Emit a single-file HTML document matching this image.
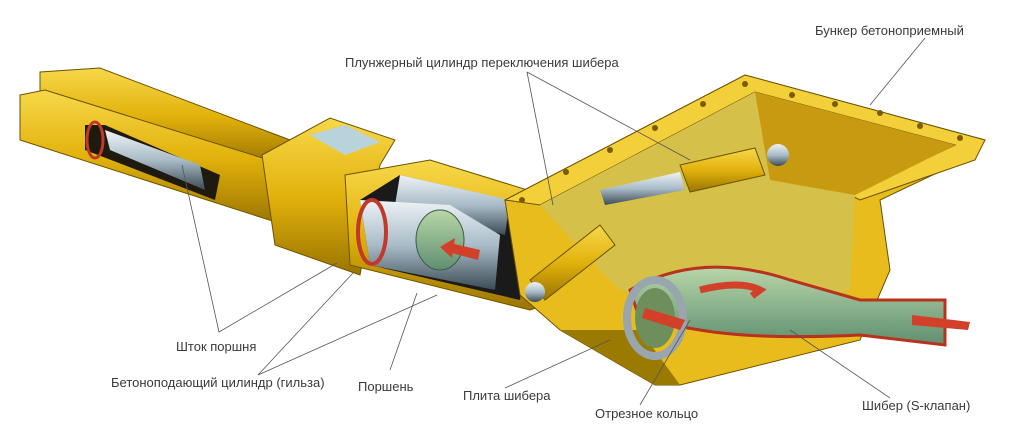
<!DOCTYPE html>
<html><head><meta charset="utf-8"><style>
html,body{margin:0;padding:0;background:#fff;}
svg{display:block}
text{font-family:"Liberation Sans",sans-serif;font-size:13px;fill:#3a3a3a}
</style></head><body>
<svg width="1024" height="426" viewBox="0 0 1024 426" xmlns="http://www.w3.org/2000/svg">
<defs>
<linearGradient id="y" x1="0" y1="0" x2="0" y2="1"><stop offset="0" stop-color="#f7d84a"/><stop offset=".5" stop-color="#e2b20c"/><stop offset="1" stop-color="#9a7400"/></linearGradient>
<linearGradient id="c" x1="0" y1="0" x2="0" y2="1"><stop offset="0" stop-color="#eef3f6"/><stop offset=".5" stop-color="#a9bcc8"/><stop offset="1" stop-color="#3c4b55"/></linearGradient>
<linearGradient id="g" x1="0" y1="0" x2="0" y2="1"><stop offset="0" stop-color="#b8d6a8"/><stop offset="1" stop-color="#5f8f70"/></linearGradient>
</defs>
<!-- left tubes -->
<polygon points="40,72 100,68 290,140 285,165 40,100" fill="url(#y)" stroke="#6b5200" stroke-width="1"/>
<polygon points="20,95 45,90 285,165 285,225 20,140" fill="url(#y)" stroke="#6b5200" stroke-width="1"/>
<polygon points="85,125 105,125 220,175 215,200 85,150" fill="#1e1a10"/>
<polygon points="105,130 200,165 205,190 110,150" fill="url(#c)"/>
<ellipse cx="95" cy="140" rx="8" ry="18" fill="none" stroke="#c0392b" stroke-width="3"/>
<!-- block -->
<polygon points="262,155 330,118 395,140 380,165 360,275 275,245" fill="url(#y)" stroke="#6b5200"/>
<polygon points="310,135 345,125 380,142 345,155" fill="#b9d3dc"/>
<!-- main cylinder -->
<polygon points="345,175 430,160 560,200 560,300 530,310 350,265" fill="url(#y)" stroke="#6b5200"/>
<polygon points="360,200 400,175 530,205 520,300 370,265" fill="#1a1a1a"/>
<polygon points="400,175 510,200 505,235 395,205" fill="url(#c)"/>
<polygon points="360,200 450,205 500,235 495,290 370,265" fill="url(#c)"/>
<ellipse cx="440" cy="240" rx="24" ry="30" fill="url(#g)" stroke="#3c5a48"/>
<ellipse cx="372" cy="232" rx="14" ry="32" fill="none" stroke="#c0392b" stroke-width="4"/>
<polygon points="450,243 480,250 478,260 448,252" fill="#d2402a"/>
<polygon points="440,247 455,238 452,258" fill="#d2402a"/>
<!-- hopper -->
<polygon points="505,200 745,75 985,140 975,155 880,200 890,270 860,340 680,385 655,385 560,330 520,295" fill="#e7bc1c" stroke="#6b5200"/>
<polygon points="505,200 745,75 985,140 975,160 860,200 850,195 955,145 755,92 540,205" fill="#f3cf3a" stroke="#6b5200"/>
<polygon points="540,205 755,92 955,145 855,195 850,290 760,320 620,290 590,260" fill="#d5c14a"/>
<polygon points="755,92 955,145 855,195 770,180" fill="#c89a10"/>
<polygon points="560,330 655,385 680,385 640,330" fill="#9a7a00"/>
<!-- s valve -->
<path d="M630,290 Q700,250 790,280 L860,300 L945,300 L945,345 L860,335 Q760,340 700,330 L640,320 Z" fill="url(#g)" stroke="#b8321e" stroke-width="3"/>
<ellipse cx="655" cy="318" rx="28" ry="38" fill="none" stroke="#9aa6ad" stroke-width="8"/>
<ellipse cx="655" cy="318" rx="20" ry="30" fill="#6e8f5c"/>
<polygon points="645,308 685,320 680,330 642,318" fill="#d2402a"/>
<path d="M700,290 Q740,280 760,290 L752,296" fill="none" stroke="#d2402a" stroke-width="7"/>
<polygon points="912,315 970,322 968,330 912,325" fill="#d2402a"/>
<!-- plunger cylinder -->
<polygon points="680,165 755,148 765,175 690,192" fill="url(#y)" stroke="#6b5200"/>
<circle cx="778" cy="155" r="11" fill="url(#c)"/>
<polygon points="600,190 680,172 685,190 605,205" fill="url(#c)"/>
<polygon points="530,280 600,225 615,245 545,300" fill="url(#y)" stroke="#6b5200"/>
<circle cx="535" cy="292" r="10" fill="url(#c)"/>
<!-- bolts -->
<g fill="#7a5d00"><circle cx="745" cy="84" r="3"/><circle cx="792" cy="95" r="3"/><circle cx="835" cy="104" r="3"/><circle cx="880" cy="113" r="3"/><circle cx="920" cy="126" r="3"/><circle cx="960" cy="138" r="3"/><circle cx="703" cy="104" r="3"/><circle cx="655" cy="128" r="3"/><circle cx="610" cy="150" r="3"/><circle cx="566" cy="172" r="3"/><circle cx="522" cy="200" r="3"/></g>
<!-- leader lines -->
<g stroke="#555" stroke-width="0.8" fill="none">
<line x1="925" y1="38" x2="870" y2="105"/>
<line x1="527" y1="72" x2="553" y2="205"/>
<line x1="527" y1="72" x2="690" y2="160"/>
<polyline points="182,165 219,332 337,263"/>
<polyline points="353,273 258,375 437,295"/>
<line x1="390" y1="370" x2="417" y2="293"/>
<line x1="505" y1="388" x2="610" y2="340"/>
<line x1="640" y1="405" x2="690" y2="320"/>
<line x1="890" y1="398" x2="790" y2="330"/>
</g>
<text x="815" y="35">Бункер бетоноприемный</text>
<text x="345" y="67">Плунжерный цилиндр переключения шибера</text>
<text x="176" y="351">Шток поршня</text>
<text x="111" y="387">Бетоноподающий цилиндр (гильза)</text>
<text x="358" y="391">Поршень</text>
<text x="463" y="400">Плита шибера</text>
<text x="595" y="418">Отрезное кольцо</text>
<text x="862" y="410">Шибер (S-клапан)</text>
</svg>
</body></html>
